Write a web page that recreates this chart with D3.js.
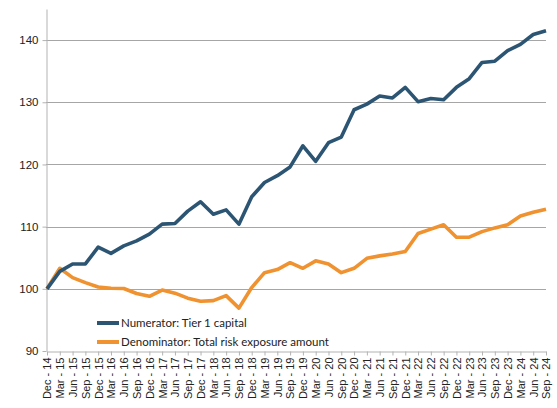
<!DOCTYPE html>
<html>
<head>
<meta charset="utf-8">
<script src="https://cdn.jsdelivr.net/npm/d3@7"></script>
<style>
  body { margin: 0; background: #fff; }
  svg { display: block; font-family: Lato, "Open Sans", sans-serif; }
</style>
</head>
<body>
<svg id="chart" width="557" height="408"></svg>
<script>
// Quarterly index, Dec-14 = 100
const quarters = [
  "Dec - 14", "Mar - 15", "Jun - 15", "Sep - 15", "Dec - 15", "Mar - 16", "Jun - 16", "Sep - 16",
  "Dec - 16", "Mar - 17", "Jun - 17", "Sep - 17", "Dec - 17", "Mar - 18", "Jun - 18", "Sep - 18",
  "Dec - 18", "Mar - 19", "Jun - 19", "Sep - 19", "Dec - 19", "Mar - 20", "Jun - 20", "Sep - 20",
  "Dec - 20", "Mar - 21", "Jun - 21", "Sep - 21", "Dec - 21", "Mar - 22", "Jun - 22", "Sep - 22",
  "Dec - 22", "Mar - 23", "Jun - 23", "Sep - 23", "Dec - 23", "Mar - 24", "Jun - 24", "Sep - 24",
];

const tier1 = [
  100, 102.8, 104.0, 104.0, 106.7, 105.7, 106.9, 107.7, 108.8, 110.4,
  110.5, 112.5, 114.0, 112.0, 112.7, 110.4, 114.8, 117.1, 118.2, 119.6,
  123.0, 120.5, 123.5, 124.4, 128.8, 129.7, 131.0, 130.7, 132.4, 130.1,
  130.6, 130.4, 132.4, 133.8, 136.4, 136.6, 138.3, 139.3, 140.9, 141.5,
];

const riskExposure = [
  100, 103.3, 101.8, 101.0, 100.3, 100.1, 100.05, 99.25, 98.8, 99.8,
  99.3, 98.5, 98.0, 98.1, 98.9, 96.9, 100.2, 102.6, 103.1, 104.2,
  103.3, 104.5, 104.0, 102.6, 103.3, 104.9, 105.3, 105.6, 106.0, 108.9,
  109.6, 110.3, 108.3, 108.3, 109.2, 109.8, 110.3, 111.7, 112.3, 112.8,
];

const yTicks = [90, 100, 110, 120, 130, 140];

const series = [
  { name: "Numerator: Tier 1 capital", values: tier1, color: "#2c5573" },
  { name: "Denominator: Total risk exposure amount", values: riskExposure, color: "#ef922f" },
];

const svg = d3.select("#chart");
const margin = { left: 46, right: 11, top: 9, bottom: 57 };
const width = 557, height = 408;

const x = d3.scalePoint()
  .domain(quarters)
  .range([margin.left + 1, width - margin.right]);

const y = d3.scaleLinear()
  .domain([90, 145])
  .range([height - margin.bottom, margin.top]);

// gridlines
svg.append("g")
  .selectAll("line")
  .data(yTicks.filter((d) => d > 90))
  .join("line")
  .attr("x1", margin.left)
  .attr("x2", width - margin.right)
  .attr("y1", (d) => Math.round(y(d)) + 0.5)
  .attr("y2", (d) => Math.round(y(d)) + 0.5)
  .attr("stroke", "#a6a6a6")
  .attr("stroke-width", 1);

// y axis
const yAxis = svg.append("g")
  .attr("transform", `translate(${margin.left + 0.5},0)`)
  .call(d3.axisLeft(y).tickValues(yTicks).tickSize(4).tickSizeOuter(0));
yAxis.select(".domain").attr("stroke", "#b3b3b3");
yAxis.selectAll(".tick line").attr("stroke", "#b3b3b3");
yAxis.selectAll(".tick text")
  .attr("font-size", 11.5)
  .attr("fill", "#222")
  .attr("x", -8);

// x axis
const xAxis = svg.append("g")
  .attr("transform", `translate(0,${Math.round(y(90)) + 0.5})`)
  .call(d3.axisBottom(x).tickSize(4).tickSizeOuter(0));
xAxis.select(".domain").attr("stroke", "#b3b3b3");
xAxis.selectAll(".tick line").attr("stroke", "#b3b3b3");
xAxis.selectAll(".tick text")
  .attr("font-size", 11)
  .attr("fill", "#222")
  .attr("transform", "rotate(-90)")
  .attr("text-anchor", "end")
  .attr("x", -6)
  .attr("y", 0)
  .attr("dy", "0.35em");

// lines
const line = d3.line()
  .x((d, i) => x(quarters[i]))
  .y((d) => y(d));

svg.append("g")
  .selectAll("path")
  .data(series.slice().reverse())
  .join("path")
  .attr("d", (d) => line(d.values))
  .attr("fill", "none")
  .attr("stroke", (d) => d.color)
  .attr("stroke-width", 3.6)
  .attr("stroke-linejoin", "round");

// legend
const legend = svg.append("g")
  .attr("transform", "translate(97,323)")
  .selectAll("g")
  .data(series)
  .join("g")
  .attr("transform", (d, i) => `translate(0,${i * 19})`);

legend.append("line")
  .attr("x1", 0)
  .attr("x2", 22)
  .attr("stroke", (d) => d.color)
  .attr("stroke-width", 4);

legend.append("text")
  .attr("x", 24)
  .attr("dy", "0.35em")
  .attr("font-size", 11.5)
  .attr("fill", "#222")
  .text((d) => d.name);
</script>
</body>
</html>
